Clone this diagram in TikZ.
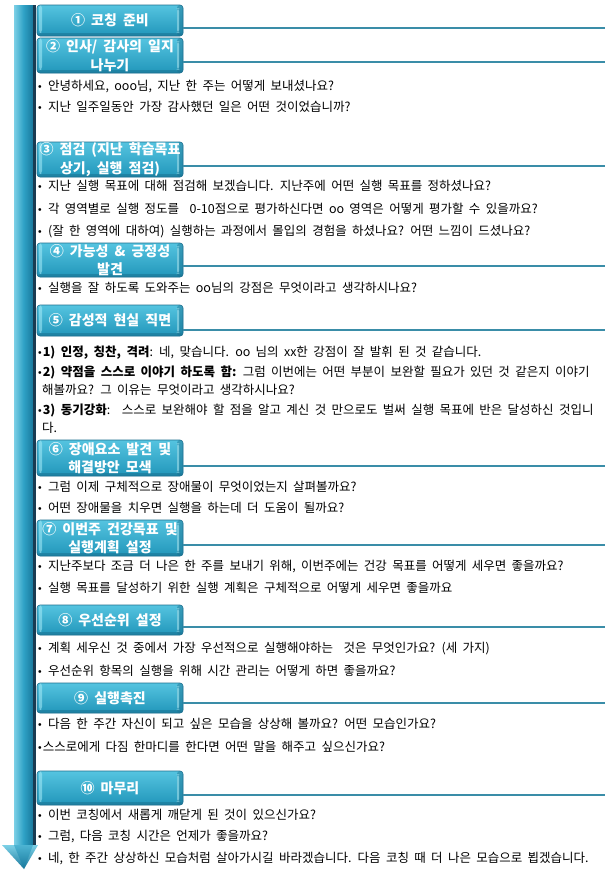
\documentclass[tikz,border=0pt]{standalone}
\usepackage{fontspec}
\setmainfont{Noto Sans CJK KR}[WordSpace=1.9]
\newfontfamily\dejavu{DejaVu Sans}
\definecolor{kTop}{HTML}{55C4E0}
\definecolor{kBot}{HTML}{2196BA}
\definecolor{kEdge}{HTML}{1F7090}
\definecolor{kLight}{HTML}{A8ECF8}
\definecolor{kDark}{HTML}{1A6F8E}
\definecolor{kLine}{HTML}{3A8DA8}
\definecolor{kShaftL}{HTML}{7CD0E6}
\definecolor{kShaftM}{HTML}{2FA2C6}
\definecolor{kShaftR}{HTML}{18789C}
\definecolor{kNavy}{HTML}{193B52}
\newcommand{\bul}{{\fontsize{9.5}{9.5}\dejavu •}}
\tikzset{
  kbox/.style={rectangle, rounded corners=3pt, minimum width=146pt, inner sep=0pt,
    align=center, text=white, font=\fontsize{14}{18.5}\selectfont\bfseries,
    top color=kTop, bottom color=kBot, draw=kEdge, line width=0.6pt,
    path picture={
      \fill[kLight, opacity=0.55] ([xshift=2pt]path picture bounding box.north west) rectangle ([xshift=5pt,yshift=3pt]path picture bounding box.south west);
      \fill[kDark, opacity=0.45] ([xshift=-6pt]path picture bounding box.north east) rectangle (path picture bounding box.south east);
      \fill[kLight, opacity=0.6] ([xshift=-6pt,yshift=-3pt]path picture bounding box.north east) rectangle ([xshift=-4pt,yshift=3pt]path picture bounding box.south east);
      \fill[kDark, opacity=0.5] (path picture bounding box.south west) rectangle ([yshift=3pt]path picture bounding box.south east);
    }},
  conn/.style={draw=kLine, line width=2.5pt},
  item/.style={anchor=base west, inner sep=0pt, font=\fontsize{12.5}{14}\selectfont, text=black},
}
\begin{document}
\begin{tikzpicture}[x=1pt,y=-1pt]
\useasboundingbox[fill=white] (0,0) rectangle (605,878);

% arrow shaft
\shade[left color=kShaftL, right color=kShaftR, middle color=kShaftM] (14,5) rectangle (33,846);
\fill[kNavy] (33,5) rectangle (36,846);
\shade[top color=kShaftL, bottom color=kShaftR] (2,845) -- (38,845) -- (24,869) -- cycle;
\shade[top color=kShaftM, bottom color=kShaftR, opacity=0.6] (14,845) -- (33,845) -- (24,869) -- cycle;

% step boxes
\node[kbox, minimum height=31pt] (b1) at (110,20.5) {① 코칭 준비};
\node[kbox, minimum height=35pt] (b2) at (110,55.5) {② 인사/ 감사의 일지\\나누기};
\node[kbox, minimum height=35pt] (b3) at (110,159.5) {③ 점검 (지난 학습목표\\상기, 실행 점검)};
\node[kbox, minimum height=34pt] (b4) at (110,260) {④ 가능성 \& 긍정성\\발견};
\node[kbox, minimum height=31pt] (b5) at (110,320.5) {⑤ 감성적 현실 직면};
\node[kbox, minimum height=36pt] (b6) at (110,458) {⑥ 장애요소 발견 및\\해결방안 모색};
\node[kbox, minimum height=36pt] (b7) at (110,538) {⑦ 이번주 건강목표 및\\실행계획 설정};
\node[kbox, minimum height=30pt] (b8) at (110,620) {⑧ 우선순위 설정};
\node[kbox, minimum height=30pt] (b9) at (110,698) {⑨ 실행촉진};
\node[kbox, minimum height=34pt] (b10) at (110,788) {⑩ 마무리};

% rules to the right edge
\coordinate (r1) at (605,28);
\coordinate (r2) at (605,62);
\coordinate (r3) at (605,166);
\coordinate (r4) at (605,266);
\coordinate (r5) at (605,330);
\coordinate (r6) at (605,466);
\coordinate (r7) at (605,545);
\coordinate (r8) at (605,627);
\coordinate (r9) at (605,703);
\coordinate (r10) at (605,795);
\foreach \k in {1,...,10} { \draw[conn] (b\k.east |- r\k) -- (r\k); }

% items
\node[item] (i1) at (37,90.5) {\bul{} 안녕하세요, ooo님, 지난 한 주는 어떻게 보내셨나요?};
\node[item] (i2) at (37,111.5) {\bul{} 지난 일주일동안 가장 감사했던 일은 어떤 것이었습니까?};
\node[item] (i3) at (37,190.5) {\bul{} 지난 실행 목표에 대해 점검해 보겠습니다. 지난주에 어떤 실행 목표를 정하셨나요?};
\node[item] (i4) at (37,213.5) {\bul{} 각 영역별로 실행 정도를 \ 0-10점으로 평가하신다면 oo 영역은 어떻게 평가할 수 있을까요?};
\node[item] (i5) at (37,235.5) {\bul{} (잘 한 영역에 대하여) 실행하는 과정에서 몰입의 경험을 하셨나요? 어떤 느낌이 드셨나요?};
\node[item] (i6) at (37,292.5) {\bul{} 실행을 잘 하도록 도와주는 oo님의 강점은 무엇이라고 생각하시나요?};
\node[item] (i7) at (37,356) {\bul{\bfseries 1) 인정, 칭찬, 격려}: 네, 맞습니다. oo 님의 xx한 강점이 잘 발휘 된 것 같습니다.};
\node[item] (i8) at (37,376) {\bul{\bfseries 2) 약점을 스스로 이야기 하도록 함:} 그럼 이번에는 어떤 부분이 보완할 필요가 있던 것 같은지 이야기};
\node[item] (i9) at (42,394.5) {해볼까요? 그 이유는 무엇이라고 생각하시나요?};
\node[item] (i10) at (37,414.5) {\bul{\bfseries 3) 동기강화}: \ 스스로 보완해야 할 점을 알고 계신 것 만으로도 벌써 실행 목표에 반은 달성하신 것입니};
\node[item] (i11) at (42,432.5) {다.};
\node[item] (i12) at (37,491.5) {\bul{} 그럼 이제 구체적으로 장애물이 무엇이었는지 살펴볼까요?};
\node[item] (i13) at (37,512.5) {\bul{} 어떤 장애물을 치우면 실행을 하는데 더 도움이 될까요?};
\node[item] (i14) at (37,570.5) {\bul{} 지난주보다 조금 더 나은 한 주를 보내기 위해, 이번주에는 건강 목표를 어떻게 세우면 좋을까요?};
\node[item] (i15) at (37,592.5) {\bul{} 실행 목표를 달성하기 위한 실행 계획은 구체적으로 어떻게 세우면 좋을까요};
\node[item] (i16) at (37,652.5) {\bul{} 계획 세우신 것 중에서 가장 우선적으로 실행해야하는 \ 것은 무엇인가요? (세 가지)};
\node[item] (i17) at (37,675.5) {\bul{} 우선순위 항목의 실행을 위해 시간 관리는 어떻게 하면 좋을까요?};
\node[item] (i18) at (37,728.5) {\bul{} 다음 한 주간 자신이 되고 싶은 모습을 상상해 볼까요? 어떤 모습인가요?};
\node[item] (i19) at (37,751.5) {\bul{}스스로에게 다짐 한마디를 한다면 어떤 말을 해주고 싶으신가요?};
\node[item] (i20) at (37,819.5) {\bul{} 이번 코칭에서 새롭게 깨닫게 된 것이 있으신가요?};
\node[item] (i21) at (37,840.5) {\bul{} 그럼, 다음 코칭 시간은 언제가 좋을까요?};
\node[item] (i22) at (37,862.5) {\bul{} 네, 한 주간 상상하신 모습처럼 살아가시길 바라겠습니다. 다음 코칭 때 더 나은 모습으로 뵙겠습니다.};
\end{tikzpicture}
\end{document}
